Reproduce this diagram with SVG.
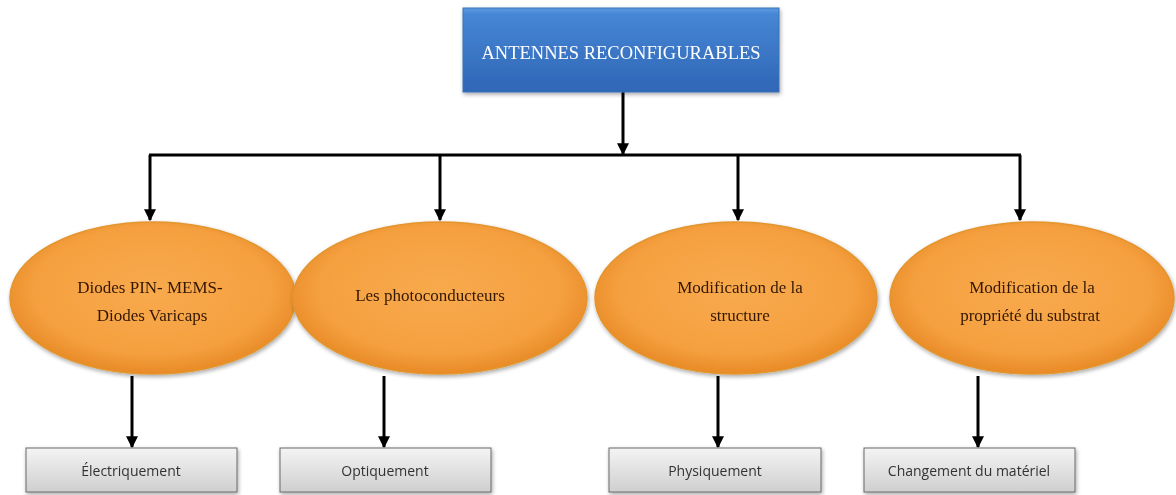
<svg xmlns="http://www.w3.org/2000/svg" width="1176" height="495" viewBox="0 0 1176 495">
<defs>
<linearGradient id="gBlue" x1="0" y1="0" x2="0" y2="1">
<stop offset="0" stop-color="#5c9be0"/>
<stop offset="0.08" stop-color="#4686d4"/>
<stop offset="1" stop-color="#2f66b6"/>
</linearGradient>
<radialGradient id="gOrange" cx="0.5" cy="0.45" r="0.55">
<stop offset="0" stop-color="#f8aa4c"/>
<stop offset="0.75" stop-color="#f5a040"/>
<stop offset="1" stop-color="#e88a26"/>
</radialGradient>
<linearGradient id="gGray" x1="0" y1="0" x2="0" y2="1">
<stop offset="0" stop-color="#f4f4f4"/>
<stop offset="1" stop-color="#cfcfcf"/>
</linearGradient>
<filter id="sh" x="-10%" y="-10%" width="125%" height="130%">
<feGaussianBlur in="SourceAlpha" stdDeviation="2"/>
<feOffset dx="1" dy="2"/>
<feComponentTransfer><feFuncA type="linear" slope="0.35"/></feComponentTransfer>
<feMerge><feMergeNode/><feMergeNode in="SourceGraphic"/></feMerge>
</filter>
<marker id="arr" viewBox="0 0 10 10" refX="9" refY="5" markerWidth="4" markerHeight="4" orient="auto" markerUnits="strokeWidth">
<path d="M0,0 L10,5 L0,10 z" fill="#000"/>
</marker>
</defs>
<style>
.eTxt{font-family:"Liberation Serif",serif;font-size:17px;fill:#341804;text-anchor:middle}
.bTxt{font-family:"Open Sans","Liberation Sans",sans-serif;font-size:14px;fill:#333;text-anchor:middle}
.ell{fill:url(#gOrange);stroke:#e3952f;stroke-width:1.5}
.box{fill:url(#gGray);stroke:#6a6a6a;stroke-width:1}
.conn{stroke:#000;stroke-width:3;fill:none}
.arrow{stroke:#000;stroke-width:3;fill:none;marker-end:url(#arr)}
</style>
<rect width="1176" height="495" fill="#fff"/>
<g id="connectors">
<line class="arrow" x1="623" y1="92" x2="623" y2="154"/>
<line class="conn" x1="149" y1="155" x2="1021" y2="155"/>
<line class="arrow" x1="150" y1="155" x2="150" y2="220"/>
<line class="arrow" x1="440" y1="155" x2="440" y2="220"/>
<line class="arrow" x1="738" y1="155" x2="738" y2="220"/>
<line class="arrow" x1="1020" y1="155" x2="1020" y2="220"/>
<line class="arrow" x1="132" y1="376" x2="132" y2="447"/>
<line class="arrow" x1="384" y1="376" x2="384" y2="447"/>
<line class="arrow" x1="718" y1="376" x2="718" y2="447"/>
<line class="arrow" x1="978" y1="376" x2="978" y2="447"/>
</g>
<g id="root" filter="url(#sh)">
<rect x="463" y="8" width="316" height="84" fill="url(#gBlue)" stroke="#3a70b8" stroke-width="1"/>
<text x="621" y="59" font-family="Liberation Serif,serif" font-size="18.5" fill="#fff" text-anchor="middle">ANTENNES RECONFIGURABLES</text>
</g>
<g id="e1" filter="url(#sh)">
<ellipse class="ell" cx="153" cy="298" rx="143" ry="76"/>
<text class="eTxt" x="150" y="293">Diodes PIN- MEMS-</text>
<text class="eTxt" x="152" y="321">Diodes Varicaps</text>
</g>
<g id="e2" filter="url(#sh)">
<ellipse class="ell" cx="440" cy="298" rx="147" ry="76"/>
<text class="eTxt" x="430" y="301">Les photoconducteurs</text>
</g>
<g id="e3" filter="url(#sh)">
<ellipse class="ell" cx="736" cy="298" rx="141" ry="76"/>
<text class="eTxt" x="740" y="293">Modification  de la</text>
<text class="eTxt" x="740" y="321">structure</text>
</g>
<g id="e4" filter="url(#sh)">
<ellipse class="ell" cx="1032" cy="298" rx="142" ry="76"/>
<text class="eTxt" x="1032" y="293">Modification  de la</text>
<text class="eTxt" x="1030" y="321">propriété  du substrat</text>
</g>
<g id="b1" filter="url(#sh)">
<rect class="box" x="26" y="448" width="211" height="44"/>
<text class="bTxt" x="131" y="476">Électriquement</text>
</g>
<g id="b2" filter="url(#sh)">
<rect class="box" x="280" y="448" width="211" height="44"/>
<text class="bTxt" x="385" y="476">Optiquement</text>
</g>
<g id="b3" filter="url(#sh)">
<rect class="box" x="609" y="448" width="212" height="44"/>
<text class="bTxt" x="715" y="476">Physiquement</text>
</g>
<g id="b4" filter="url(#sh)">
<rect class="box" x="864" y="448" width="211" height="44"/>
<text class="bTxt" x="969" y="476">Changement du matériel</text>
</g>
</svg>
